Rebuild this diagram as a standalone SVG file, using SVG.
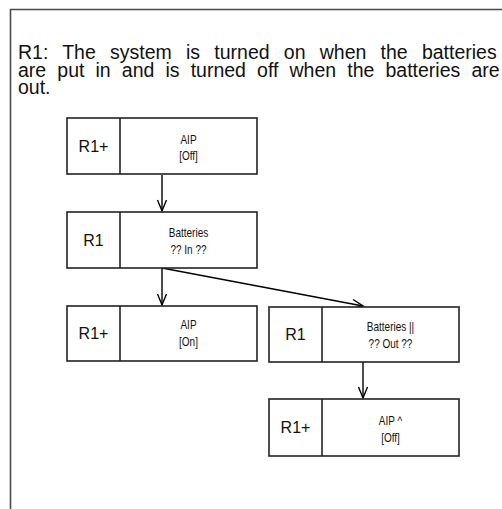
<svg xmlns="http://www.w3.org/2000/svg" width="502" height="509" viewBox="0 0 502 509">
<defs>
<marker id="arr" markerUnits="userSpaceOnUse" markerWidth="14" markerHeight="12" viewBox="-12 -6 14 12" refX="0" refY="0" orient="auto">
<path d="M-11,-4.5 L0,0 L-11,4.5" fill="none" stroke="#000" stroke-width="1.4"/>
</marker>
</defs>
<style>
.frame{fill:none;stroke:#4a4a4a;stroke-width:1.6}
.box{fill:#fff;stroke:#222;stroke-width:1.6}
.div{stroke:#222;stroke-width:1.6}
.head{font-family:"Liberation Sans",Arial,sans-serif;font-size:19.5px;fill:#111}
.lbl{font-family:"Liberation Sans",Arial,sans-serif;font-size:16px;fill:#111;text-anchor:middle}
.sm{font-family:"Liberation Sans",Arial,sans-serif;font-size:12.5px;fill:#111;text-anchor:middle}
.con{fill:none;stroke:#000;stroke-width:1.4;marker-end:url(#arr)}
</style>
<rect width="502" height="509" fill="#fff"/>
<path class="frame" d="M10.5,509 L10.5,9.5 L502,9.5"/>
<text class="head" x="18" y="59" word-spacing="8.8">R1: The system is turned on when the batteries</text>
<text class="head" x="18" y="76.5" word-spacing="5.7">are put in and is turned off when the batteries are</text>
<text class="head" x="18" y="94">out.</text>

<g id="connectors">
<path class="con" d="M162,175 L162,211"/>
<path class="con" d="M162,268 L162,305"/>
<path class="con" d="M162,268 L363,306"/>
<path class="con" d="M363,362 L363,398"/>
</g>

<g id="n1">
<rect class="box" x="67" y="118" width="190" height="56"/>
<line class="div" x1="120" y1="118" x2="120" y2="174"/>
<text class="lbl" x="93.5" y="152">R1+</text>
<text class="sm" transform="translate(188.5,144) scale(0.8,1)">AIP</text>
<text class="sm" transform="translate(188.5,160) scale(0.8,1)">[Off]</text>
</g>
<g id="n2">
<rect class="box" x="67" y="212" width="190" height="56"/>
<line class="div" x1="120" y1="212" x2="120" y2="268"/>
<text class="lbl" x="93.5" y="246">R1</text>
<text class="sm" transform="translate(188.5,237) scale(0.8,1)">Batteries</text>
<text class="sm" transform="translate(188.5,254) scale(0.8,1)">?? In ??</text>
</g>
<g id="n3">
<rect class="box" x="67" y="306" width="190" height="55"/>
<line class="div" x1="120" y1="306" x2="120" y2="361"/>
<text class="lbl" x="93.5" y="339">R1+</text>
<text class="sm" transform="translate(188.5,329) scale(0.8,1)">AIP</text>
<text class="sm" transform="translate(188.5,346) scale(0.8,1)">[On]</text>
</g>
<g id="n4">
<rect class="box" x="269" y="307" width="190" height="55"/>
<line class="div" x1="322" y1="307" x2="322" y2="362"/>
<text class="lbl" x="295.5" y="340">R1</text>
<text class="sm" transform="translate(390.5,331) scale(0.8,1)">Batteries ||</text>
<text class="sm" transform="translate(390.5,348) scale(0.8,1)">?? Out ??</text>
</g>
<g id="n5">
<rect class="box" x="269" y="399" width="190" height="57"/>
<line class="div" x1="322" y1="399" x2="322" y2="456"/>
<text class="lbl" x="295.5" y="433">R1+</text>
<text class="sm" transform="translate(390.5,425) scale(0.8,1)">AIP ^</text>
<text class="sm" transform="translate(390.5,442) scale(0.8,1)">[Off]</text>
</g>
</svg>
